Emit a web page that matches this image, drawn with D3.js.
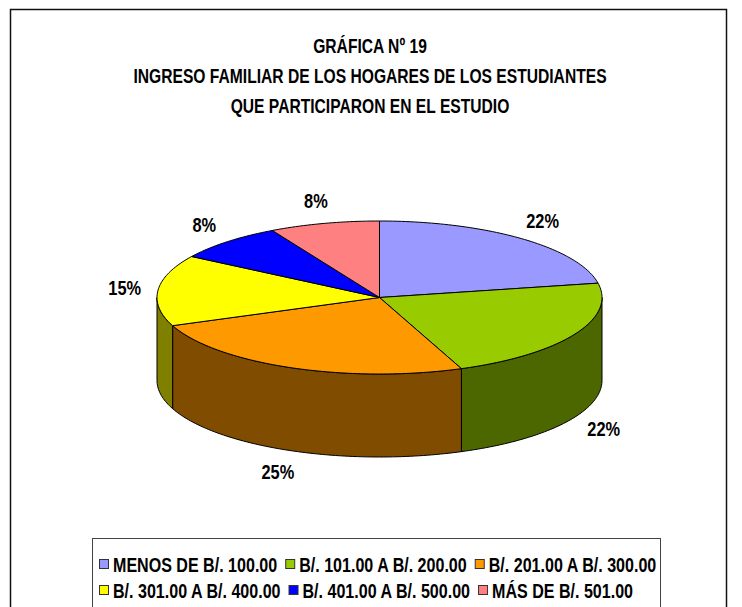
<!DOCTYPE html>
<html>
<head>
<meta charset="utf-8">
<script src="https://cdn.jsdelivr.net/npm/d3@7"></script>
<style>
    body { margin: 0; background: #fff; }
    text { font-family: "Liberation Sans Narrow", "Arial Narrow", "Liberation Sans", Arial, sans-serif; font-weight: bold; fill: #000; }
</style>
</head>
<body>
<svg id="chart" width="742" height="607"></svg>
<script>

// data
var categories = ['MENOS DE B/. 100.00', 'B/. 101.00 A B/. 200.00', 'B/. 201.00 A B/. 300.00',
                  'B/. 301.00 A B/. 400.00', 'B/. 401.00 A B/. 500.00', 'MÁS DE B/. 501.00'];
var percents = [22, 22, 25, 15, 8, 8];
var topColors = ['#9999FF', '#99CC00', '#FF9900', '#FFFF00', '#0000FF', '#FF8080'];
var titleLines = ['GRÁFICA Nº 19', 'INGRESO FAMILIAR DE LOS HOGARES DE LOS ESTUDIANTES', 'QUE PARTICIPARON EN EL ESTUDIO'];
var legendRows = [[0, 1, 2], [3, 4, 5]];

var svg = d3.select('#chart');

// pie geometry
const cx = 379.5, cy = 297.5, rx = 222.5, ry = 76.5, depth = 83;

// check if the narrow font is there, otherwise squeeze the text
var probe = svg.append('text').style('font-size', '20px').text('ESTUDIANTES');
var w1 = probe.node().getComputedTextLength();
probe.style('font-family', '"Liberation Sans", Arial, sans-serif');
var w2 = probe.node().getComputedTextLength();
probe.remove();
var squeeze = (Math.abs(w1 - w2) < 0.5) ? 0.82 : 1;

function placeText (sel, x, y, sx) {
    sel.attr('transform', 'translate(' + x + ',' + y + ') scale(' + (squeeze * (sx || 1)) + ',1)');
}

// outer frame
svg.append('rect')
    .attr('x', 10.5).attr('y', 9.5)
    .attr('width', 716).attr('height', 620)
    .attr('fill', 'none')
    .attr('stroke', '#111')
    .attr('stroke-width', 1.5);

// title
titleLines.forEach(function (line, i) {
    var t = svg.append('text')
        .attr('text-anchor', 'middle')
        .style('font-size', '20.5px')
        .text(line);
    placeText(t, 370, 53 + i * 30, 0.93);
});

var pie = d3.pie().sort(null).value(function (d) { return d; });
var slices = pie(percents);

function pt (a, dy) {
    return [cx + rx * Math.sin(a), cy - ry * Math.cos(a) + (dy || 0)];
}

function arcPoints (a0, a1, dy) {
    var n = Math.max(2, Math.ceil((a1 - a0) / 0.02));
    var pts = [];
    for (var k = 0; k <= n; k++) {
        pts.push(pt(a0 + (a1 - a0) * k / n, dy));
    }
    return pts;
}

var line = d3.line();
var halfDark = Math.log(2) / Math.log(1 / 0.7);

// side walls, only the front half shows
slices.forEach(function (s, i) {
    var a0 = Math.max(s.startAngle, Math.PI / 2);
    var a1 = Math.min(s.endAngle, 3 * Math.PI / 2);
    if (a1 <= a0) { return; }
    var upper = arcPoints(a0, a1, 0);
    var lower = arcPoints(a0, a1, depth).reverse();
    svg.append('path')
        .attr('d', line(upper.concat(lower)) + 'Z')
        .attr('fill', d3.rgb(topColors[i]).darker(halfDark))
        .attr('stroke', '#000')
        .attr('stroke-width', 1)
        .attr('stroke-linejoin', 'round');
});

// top faces
slices.forEach(function (s, i) {
    var pts = [[cx, cy]].concat(arcPoints(s.startAngle, s.endAngle, 0));
    svg.append('path')
        .attr('d', line(pts) + 'Z')
        .attr('fill', topColors[i])
        .attr('stroke', '#000')
        .attr('stroke-width', 1)
        .attr('stroke-linejoin', 'round');
});

// percent labels
slices.forEach(function (s) {
    var a = (s.startAngle + s.endAngle) / 2;
    var x = cx + rx * 1.15 * Math.sin(a);
    var y = cy - ry * 1.3 * Math.cos(a) + (Math.cos(a) < 0 ? depth : 0);
    var t = svg.append('text')
        .attr('text-anchor', 'middle')
        .attr('dy', '0.36em')
        .style('font-size', '20px')
        .text(s.value + '%');
    placeText(t, x, y);
});

// legend
svg.append('rect')
    .attr('x', 92.5).attr('y', 538.5)
    .attr('width', 568).attr('height', 100)
    .attr('fill', '#fff')
    .attr('stroke', '#444')
    .attr('stroke-width', 1);

legendRows.forEach(function (row, r) {
    var x = 99;
    var y = 565 + r * 26;
    row.forEach(function (idx) {
        svg.append('rect')
            .attr('x', x + 0.5).attr('y', y - 5.5)
            .attr('width', 9).attr('height', 9)
            .attr('fill', topColors[idx])
            .attr('stroke', '#333');
        var t = svg.append('text')
            .attr('dy', '0.36em')
            .style('font-size', '19.6px')
            .text(categories[idx]);
        placeText(t, x + 14, y);
        x += 14 + t.node().getComputedTextLength() * squeeze + 8;
    });
});

</script>
</body>
</html>
